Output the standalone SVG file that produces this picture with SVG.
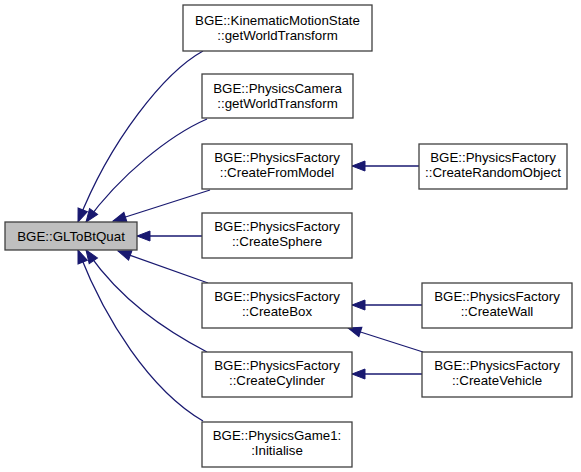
<svg xmlns="http://www.w3.org/2000/svg" width="581" height="472" viewBox="0 0 581 472">
<style>
.n rect{fill:#ffffff;stroke:#404040;stroke-width:1.3}
.n.main rect{fill:#bfbfbf}
.n text{font-family:"Liberation Sans",Arial,sans-serif;font-size:13.3px;fill:#000000;text-anchor:middle}
.e path{fill:none;stroke:#191970;stroke-width:1.3}
</style>
<defs>
<marker id="ah" markerUnits="userSpaceOnUse" markerWidth="14" markerHeight="11" refX="13" refY="5" orient="auto" overflow="visible">
<polygon points="0,0 13,5 0,10" fill="#191970" stroke="#191970" stroke-width="1"/>
</marker>
</defs>
<rect width="581" height="472" fill="#ffffff"/>
<g id="edges" class="e">
<path d="M203,51 C165,72 110,140 78,222" marker-end="url(#ah)"/>
<path d="M207,119 C170,135 120,175 86,222" marker-end="url(#ah)"/>
<path d="M210,190 L113,221" marker-end="url(#ah)"/>
<path d="M202,236 L137,236" marker-end="url(#ah)"/>
<path d="M208,283 L118,251" marker-end="url(#ah)"/>
<path d="M207,352 C165,330 120,300 86,250" marker-end="url(#ah)"/>
<path d="M203,421 C150,390 105,320 78,250" marker-end="url(#ah)"/>
<path d="M419,166 L352,166" marker-end="url(#ah)"/>
<path d="M422,305 L352,305" marker-end="url(#ah)"/>
<path d="M423,352 L348,328" marker-end="url(#ah)"/>
<path d="M422,374 L352,374" marker-end="url(#ah)"/>
</g>
<g id="glToBtQuat" class="n main">
<rect x="5" y="222" width="132" height="28"/>
<text x="71" y="240.5">BGE::GLToBtQuat</text>
</g>
<g id="kinematic" class="n">
<rect x="183" y="5" width="189" height="46"/>
<text x="277.5" y="24.5">BGE::KinematicMotionState</text>
<text x="277.5" y="39.5">::getWorldTransform</text>
</g>
<g id="camera" class="n">
<rect x="202" y="74" width="151" height="44"/>
<text x="277.5" y="92.5">BGE::PhysicsCamera</text>
<text x="277.5" y="107.5">::getWorldTransform</text>
</g>
<g id="createFromModel" class="n">
<rect x="202" y="144" width="150" height="45"/>
<text x="277" y="162">BGE::PhysicsFactory</text>
<text x="277" y="177">::CreateFromModel</text>
</g>
<g id="createRandomObject" class="n">
<rect x="419" y="144" width="148" height="45"/>
<text x="493" y="162">BGE::PhysicsFactory</text>
<text x="493" y="177">::CreateRandomObject</text>
</g>
<g id="createSphere" class="n">
<rect x="202" y="213" width="150" height="45"/>
<text x="277" y="231">BGE::PhysicsFactory</text>
<text x="277" y="246">::CreateSphere</text>
</g>
<g id="createBox" class="n">
<rect x="202" y="283" width="150" height="45"/>
<text x="277" y="301">BGE::PhysicsFactory</text>
<text x="277" y="316">::CreateBox</text>
</g>
<g id="createWall" class="n">
<rect x="422" y="283" width="150" height="45"/>
<text x="497" y="301">BGE::PhysicsFactory</text>
<text x="497" y="316">::CreateWall</text>
</g>
<g id="createCylinder" class="n">
<rect x="202" y="352" width="150" height="45"/>
<text x="277" y="370">BGE::PhysicsFactory</text>
<text x="277" y="385">::CreateCylinder</text>
</g>
<g id="createVehicle" class="n">
<rect x="422" y="352" width="150" height="45"/>
<text x="497" y="370">BGE::PhysicsFactory</text>
<text x="497" y="385">::CreateVehicle</text>
</g>
<g id="initialise" class="n">
<rect x="202" y="422" width="150" height="45"/>
<text x="277" y="440">BGE::PhysicsGame1:</text>
<text x="277" y="455">:Initialise</text>
</g>
</svg>
